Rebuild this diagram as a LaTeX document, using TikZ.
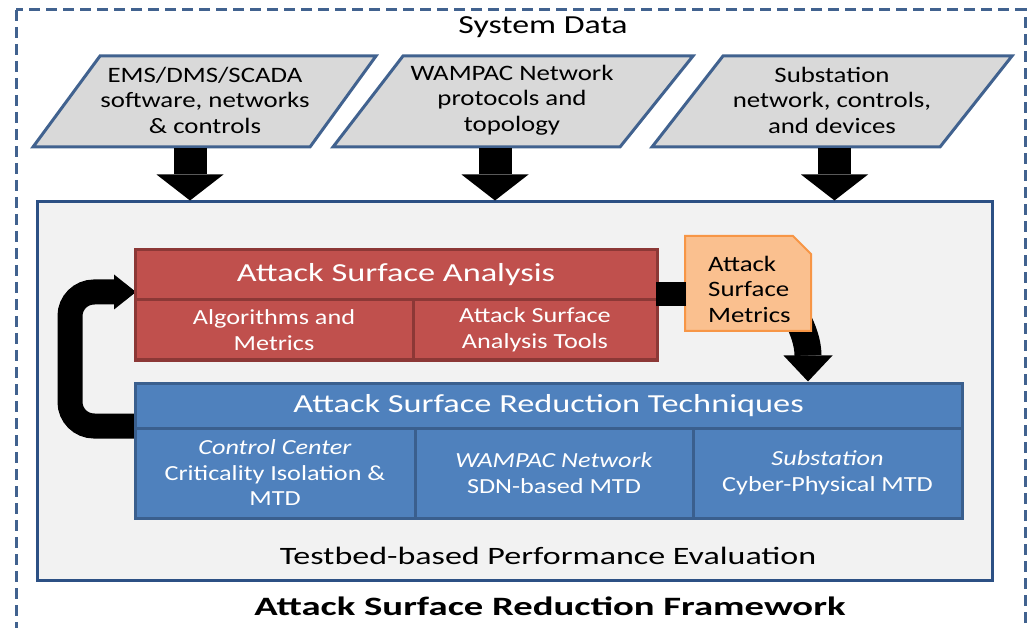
\documentclass[tikz,border=0pt]{standalone}
\usepackage{fontspec}
\setmainfont{Carlito}[FakeStretch=1.22]
\newfontfamily\sysfont{Carlito}[FakeStretch=1.30]
\newfontfamily\headfam{Carlito}[FakeStretch=1.32]
\newfontfamily\evalfam{Carlito}[FakeStretch=1.36]
\newfontfamily\titlefam{Carlito}[FakeStretch=1.46]
\usetikzlibrary{arrows.meta,calc}
\definecolor{dashblue}{HTML}{41628F}
\definecolor{pggray}{HTML}{D9D9D9}
\definecolor{pgborder}{HTML}{41628F}
\definecolor{framefill}{HTML}{F2F2F2}
\definecolor{frameborder}{HTML}{2C5084}
\definecolor{redfill}{HTML}{C0504D}
\definecolor{reddark}{HTML}{8C3836}
\definecolor{bluefill}{HTML}{4F81BD}
\definecolor{bluedark}{HTML}{3A5F8E}
\definecolor{notefill}{HTML}{FAC08F}
\definecolor{noteborder}{HTML}{F79646}
\tikzset{
  dashframe/.style={draw=dashblue, line width=3pt, dash pattern=on 11pt off 6pt},
  pgram/.style={draw=pgborder, fill=pggray, line width=3pt, line join=miter},
  pgtext/.style={align=center, inner sep=0pt, font=\fontsize{22}{25.5}\selectfont},
  bigarrow/.style={line width=33pt, -{Triangle[length=26pt,width=67pt,line width=0pt]}},
  redcell/.style={draw=reddark, fill=redfill, line width=3pt, text=white, align=center, inner sep=0pt},
  bluecell/.style={draw=bluedark, fill=bluefill, line width=3pt, text=white, align=center, inner sep=0pt},
  cellfont/.style={font=\fontsize{21.5}{25.5}\selectfont},
  headfont/.style={font=\headfam\fontsize{26}{30}\selectfont},
  barline/.style={line width=24pt},
}
\begin{document}
\begin{tikzpicture}[x=1pt,y=-1pt]
\useasboundingbox (0,0) rectangle (1031,628);
% outer dashed frame, bottom edge runs past the page
\begin{scope}
  \clip (0,0) rectangle (1031,628);
  \draw[dashframe] (16,10) rectangle (1025,645);
\end{scope}

\node[font=\sysfont\fontsize{26}{30}\selectfont] (sysdata) at (543,27) {System Data};

% data sources
\draw[pgram] (100,56) -- (376,56) -- (310,147) -- (33,147) -- cycle;
\node[pgtext] (src1) at (205,100) {EMS/DMS/SCADA\\software, networks\\\& controls};
\draw[pgram] (403,56) -- (693,56) -- (620,147) -- (333,147) -- cycle;
\node[pgtext] (src2) at (512,100) {WAMPAC Network\\protocols and\\topology};
\draw[pgram] (723,56) -- (1012,56) -- (940,147) -- (652,147) -- cycle;
\node[pgtext] (src3) at (832,100) {Substation\\network, controls,\\and devices};

% framework box
\node[draw=frameborder, fill=framefill, line width=3pt, minimum width=955pt, minimum height=378pt, inner sep=0pt] (frame) at (514.5,391) {};

\coordinate (s1) at (190,148);
\coordinate (s2) at (495,148);
\coordinate (s3) at (834.5,148);
\draw[bigarrow] (s1) -- (s1 |- frame.north);
\draw[bigarrow] (s2) -- (s2 |- frame.north);
\draw[bigarrow] (s3) -- (s3 |- frame.north);

% feedback loop from reduction back to analysis
\coordinate (loopA) at (138,426);
\coordinate (loopB) at (136,292);
\draw[line width=25pt, rounded corners=24pt, -{Triangle[length=22pt,width=35pt,line width=0pt]}]
  (loopA) -- (70,426) -- (70,292) -- (loopB);

% analysis block
\node[redcell, headfont, minimum width=522pt, minimum height=50pt] (rh) at (396,275) {Attack Surface Analysis};
\node[redcell, cellfont, minimum width=278pt, minimum height=60pt] (r1) at (274,330) {Algorithms and\\Metrics};
\node[redcell, cellfont, minimum width=244pt, minimum height=60pt] (r2) at (535,330) {Attack Surface\\Analysis Tools};

% reduction block
\node[bluecell, headfont, minimum width=827pt, minimum height=45pt] (bh) at (548.5,405.5) {Attack Surface Reduction Techniques};
\node[bluecell, cellfont, minimum width=280pt, minimum height=90pt] (b1) at (275,473) {\textit{Control Center}\\Criticality Isolation \&\\MTD};
\node[bluecell, cellfont, minimum width=278pt, minimum height=90pt] (b2) at (554,473) {\textit{WAMPAC Network}\\SDN-based MTD};
\node[bluecell, cellfont, minimum width=269pt, minimum height=90pt] (b3) at (827.5,473) {\textit{Substation}\\Cyber-Physical MTD};

% metrics document and its arrow down to the reduction block
\coordinate (ra) at (656,294);
\coordinate (mA) at (799,322);
\coordinate (mB) at (bh.north -| 808,0);
\draw[line width=27pt, -{Triangle[length=26pt,width=49pt,line width=0pt]}]
  (mA) .. controls (806,336) and (808,348) .. (mB);
\draw[draw=noteborder, fill=notefill, line width=2pt] (685,236) -- (793,236) -- (811,254) -- (811,331) -- (685,331) -- cycle;
\node[align=left, anchor=west, inner sep=0pt, font=\fontsize{22}{25.5}\selectfont] (nt) at (708,289) {Attack\\Surface\\Metrics};
\draw[barline] (ra) -- (ra -| 686,0);

\node[font=\evalfam\fontsize{25}{28}\selectfont] (testbed) at (548,556) {Testbed-based Performance Evaluation};
\node[font=\titlefam\bfseries\fontsize{26.5}{30}\selectfont] (title) at (550,606) {Attack Surface Reduction Framework};
\end{tikzpicture}
\end{document}
